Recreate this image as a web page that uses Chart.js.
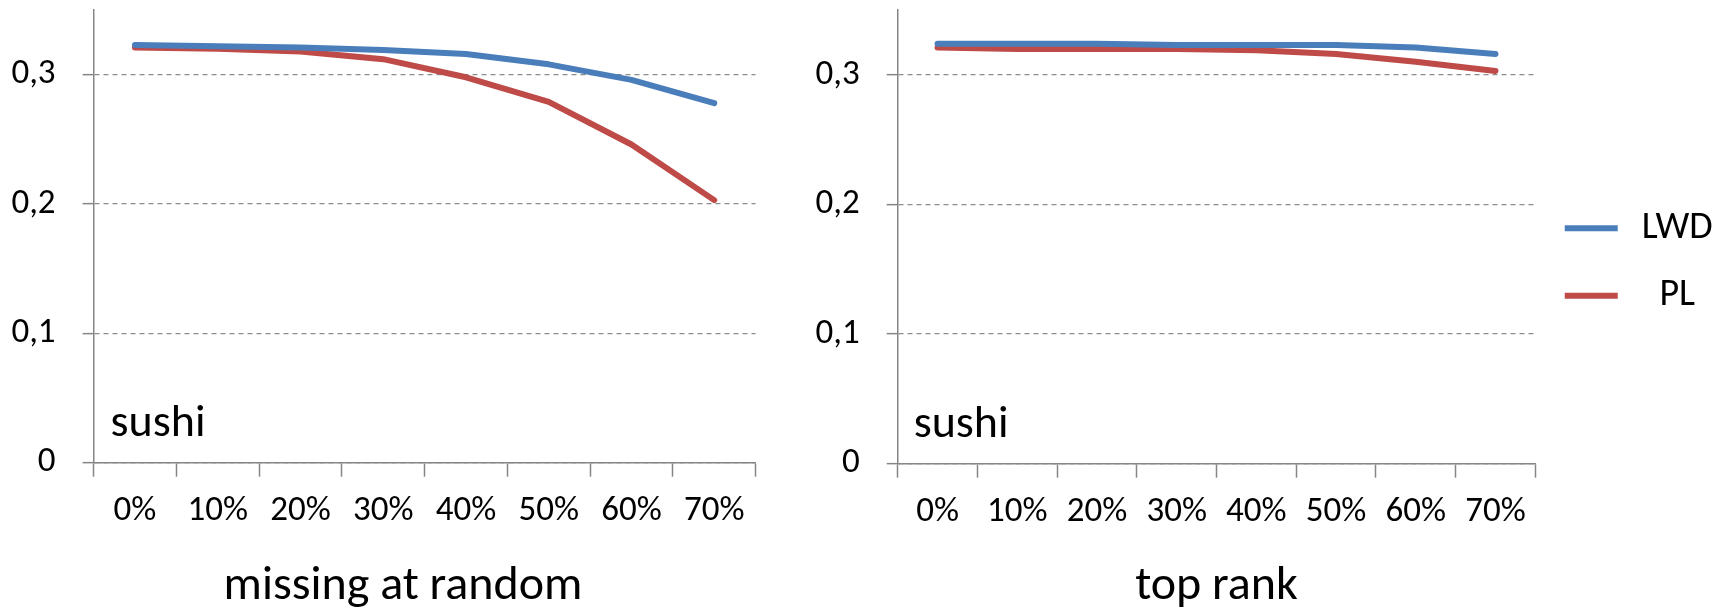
<!DOCTYPE html>
<html>
<head>
<meta charset="utf-8">
<title>sushi</title>
<script src="https://cdn.jsdelivr.net/npm/chart.js@4/dist/chart.umd.min.js"></script>
<style>
  html, body { margin: 0; padding: 0; background: #ffffff; overflow: hidden; }
  #wrap { position: relative; width: 1727px; height: 611px; }
  canvas { position: absolute; top: 0; }
  #chartRandom { left: 0; }
  #chartTop { left: 800px; }
</style>
</head>
<body>
<div id="wrap">
  <canvas id="chartRandom" width="806" height="611"></canvas>
  <canvas id="chartTop" width="927" height="611"></canvas>
</div>
<script>
// Share of missing ranking entries
const categories = ['0%', '10%', '20%', '30%', '40%', '50%', '60%', '70%'];

// Value axis labels (decimal comma), indexed by tenths
const yTickLabels = ['0', '0,1', '0,2', '0,3'];

// missing at random
const lwdRandom = [0.323, 0.322, 0.321, 0.319, 0.316, 0.308, 0.296, 0.278];
const plRandom  = [0.321, 0.320, 0.318, 0.312, 0.298, 0.279, 0.246, 0.203];

// top rank
const lwdTop = [0.324, 0.324, 0.324, 0.323, 0.323, 0.323, 0.321, 0.316];
const plTop  = [0.321, 0.320, 0.320, 0.320, 0.319, 0.316, 0.310, 0.303];

const seriesNames = ['LWD', 'PL'];
const panelName = 'sushi';

const FONT = "Carlito, Calibri, 'Liberation Sans Narrow', 'DejaVu Sans Condensed', 'Open Sans', sans-serif";
const BLUE = '#4a7ebb';
const RED = '#be4b48';
const AXIS = '#868686';
const GRID = '#8c8c8c';

Chart.defaults.font.family = FONT;
Chart.defaults.color = '#000000';

// Writes the panel name in the lower-left corner of the plot area
const panelLabel = {
  id: 'panelLabel',
  afterDatasetsDraw(chart, args, opts) {
    const { ctx, chartArea } = chart;
    ctx.save();
    ctx.font = `${opts.size}px ${FONT}`;
    ctx.fillStyle = '#000000';
    ctx.textAlign = 'left';
    ctx.textBaseline = 'alphabetic';
    ctx.fillText(opts.text, chartArea.left + opts.dx, chartArea.bottom - opts.dy);
    ctx.restore();
  }
};

function makeDatasets(lwd, pl) {
  const common = {
    borderWidth: 6,
    pointRadius: 0,
    pointHoverRadius: 0,
    pointStyle: 'line',
    tension: 0,
    fill: false,
    borderCapStyle: 'round',
    borderJoinStyle: 'round'
  };
  return [
    Object.assign({ label: seriesNames[0], data: lwd, borderColor: BLUE, backgroundColor: BLUE }, common),
    Object.assign({ label: seriesNames[1], data: pl, borderColor: RED, backgroundColor: RED }, common)
  ];
}

function makeScales(yWidth, xHeight, xTitle, rightGap) {
  const scales = {
    x: {
      type: 'category',
      offset: true,
      afterFit: (s) => { s.height = xHeight; s.paddingLeft = 0; s.paddingRight = 0; },
      ticks: { padding: 14, color: '#000', font: { size: 35 }, maxRotation: 0, autoSkip: false },
      grid: { offset: true, drawOnChartArea: false, drawTicks: true, tickLength: 14, tickColor: AXIS, tickWidth: 1.5 },
      border: { display: true, color: AXIS, width: 1.5 },
      title: xTitle
        ? { display: true, text: xTitle, color: '#000', font: { size: 48, lineHeight: 1 }, padding: 0 }
        : { display: false }
    },
    y: {
      type: 'linear',
      min: 0,
      max: 0.35,
      afterFit: (s) => { s.width = yWidth; s.paddingTop = 0; s.paddingBottom = 0; },
      ticks: {
        stepSize: 0.1,
        includeBounds: false,
        padding: 27,
        color: '#000',
        font: { size: 35 },
        callback: (v) => yTickLabels[Math.round(v * 10)]
      },
      grid: {
        color: GRID,
        lineWidth: 1.3,
        drawTicks: true,
        tickLength: 11,
        tickColor: AXIS,
        tickWidth: 1.5,
        tickBorderDash: []
      },
      border: { display: true, color: AXIS, width: 1.5, dash: [5, 4] }
    }
  };
  if (rightGap) {
    // empty margin box on the right of the plot, nothing is drawn in it
    scales.gap = {
      type: 'linear',
      position: 'right',
      min: 0,
      max: 1,
      afterFit: (s) => { s.width = rightGap; s.paddingTop = 0; s.paddingBottom = 0; },
      ticks: { display: false },
      grid: { display: false, drawTicks: false },
      border: { display: false }
    };
  }
  return scales;
}

// Left panel: missing at random
new Chart(document.getElementById('chartRandom'), {
  type: 'line',
  data: { labels: categories, datasets: makeDatasets(lwdRandom, plRandom) },
  options: {
    responsive: false,
    animation: false,
    devicePixelRatio: 1,
    layout: { padding: { top: 10, right: 0, bottom: 0, left: 0 } },
    scales: makeScales(93.6, 100.3, null, 50.4),
    plugins: {
      legend: { display: false },
      tooltip: { enabled: false },
      title: {
        display: true,
        text: 'missing at random',
        position: 'bottom',
        color: '#000',
        font: { size: 48, lineHeight: 1, weight: 'normal' },
        padding: 0
      },
      panelLabel: { text: panelName, size: 46, dx: 17, dy: 27 }
    }
  },
  plugins: [panelLabel]
});

// Right panel: top rank, with the series legend
new Chart(document.getElementById('chartTop'), {
  type: 'line',
  data: { labels: categories, datasets: makeDatasets(lwdTop, plTop) },
  options: {
    responsive: false,
    animation: false,
    devicePixelRatio: 1,
    layout: { padding: { top: 10, right: 9.3, bottom: 0, left: 0 } },
    scales: makeScales(97.7, 147.3, 'top rank', 0),
    plugins: {
      tooltip: { enabled: false },
      title: { display: false },
      legend: {
        display: true,
        position: 'right',
        align: 'start',
        fullSize: true,
        title: { display: true, text: '', font: { size: 12, lineHeight: 1 }, padding: { top: 0, bottom: 157.9 } },
        labels: {
          usePointStyle: true,
          pointStyle: 'line',
          pointStyleWidth: 53,
          boxHeight: 38,
          padding: 29.4,
          color: '#000',
          font: { size: 38 },
          textAlign: 'center'
        }
      },
      panelLabel: { text: panelName, size: 46, dx: 16, dy: 27 }
    }
  },
  plugins: [panelLabel]
});
</script>
</body>
</html>
